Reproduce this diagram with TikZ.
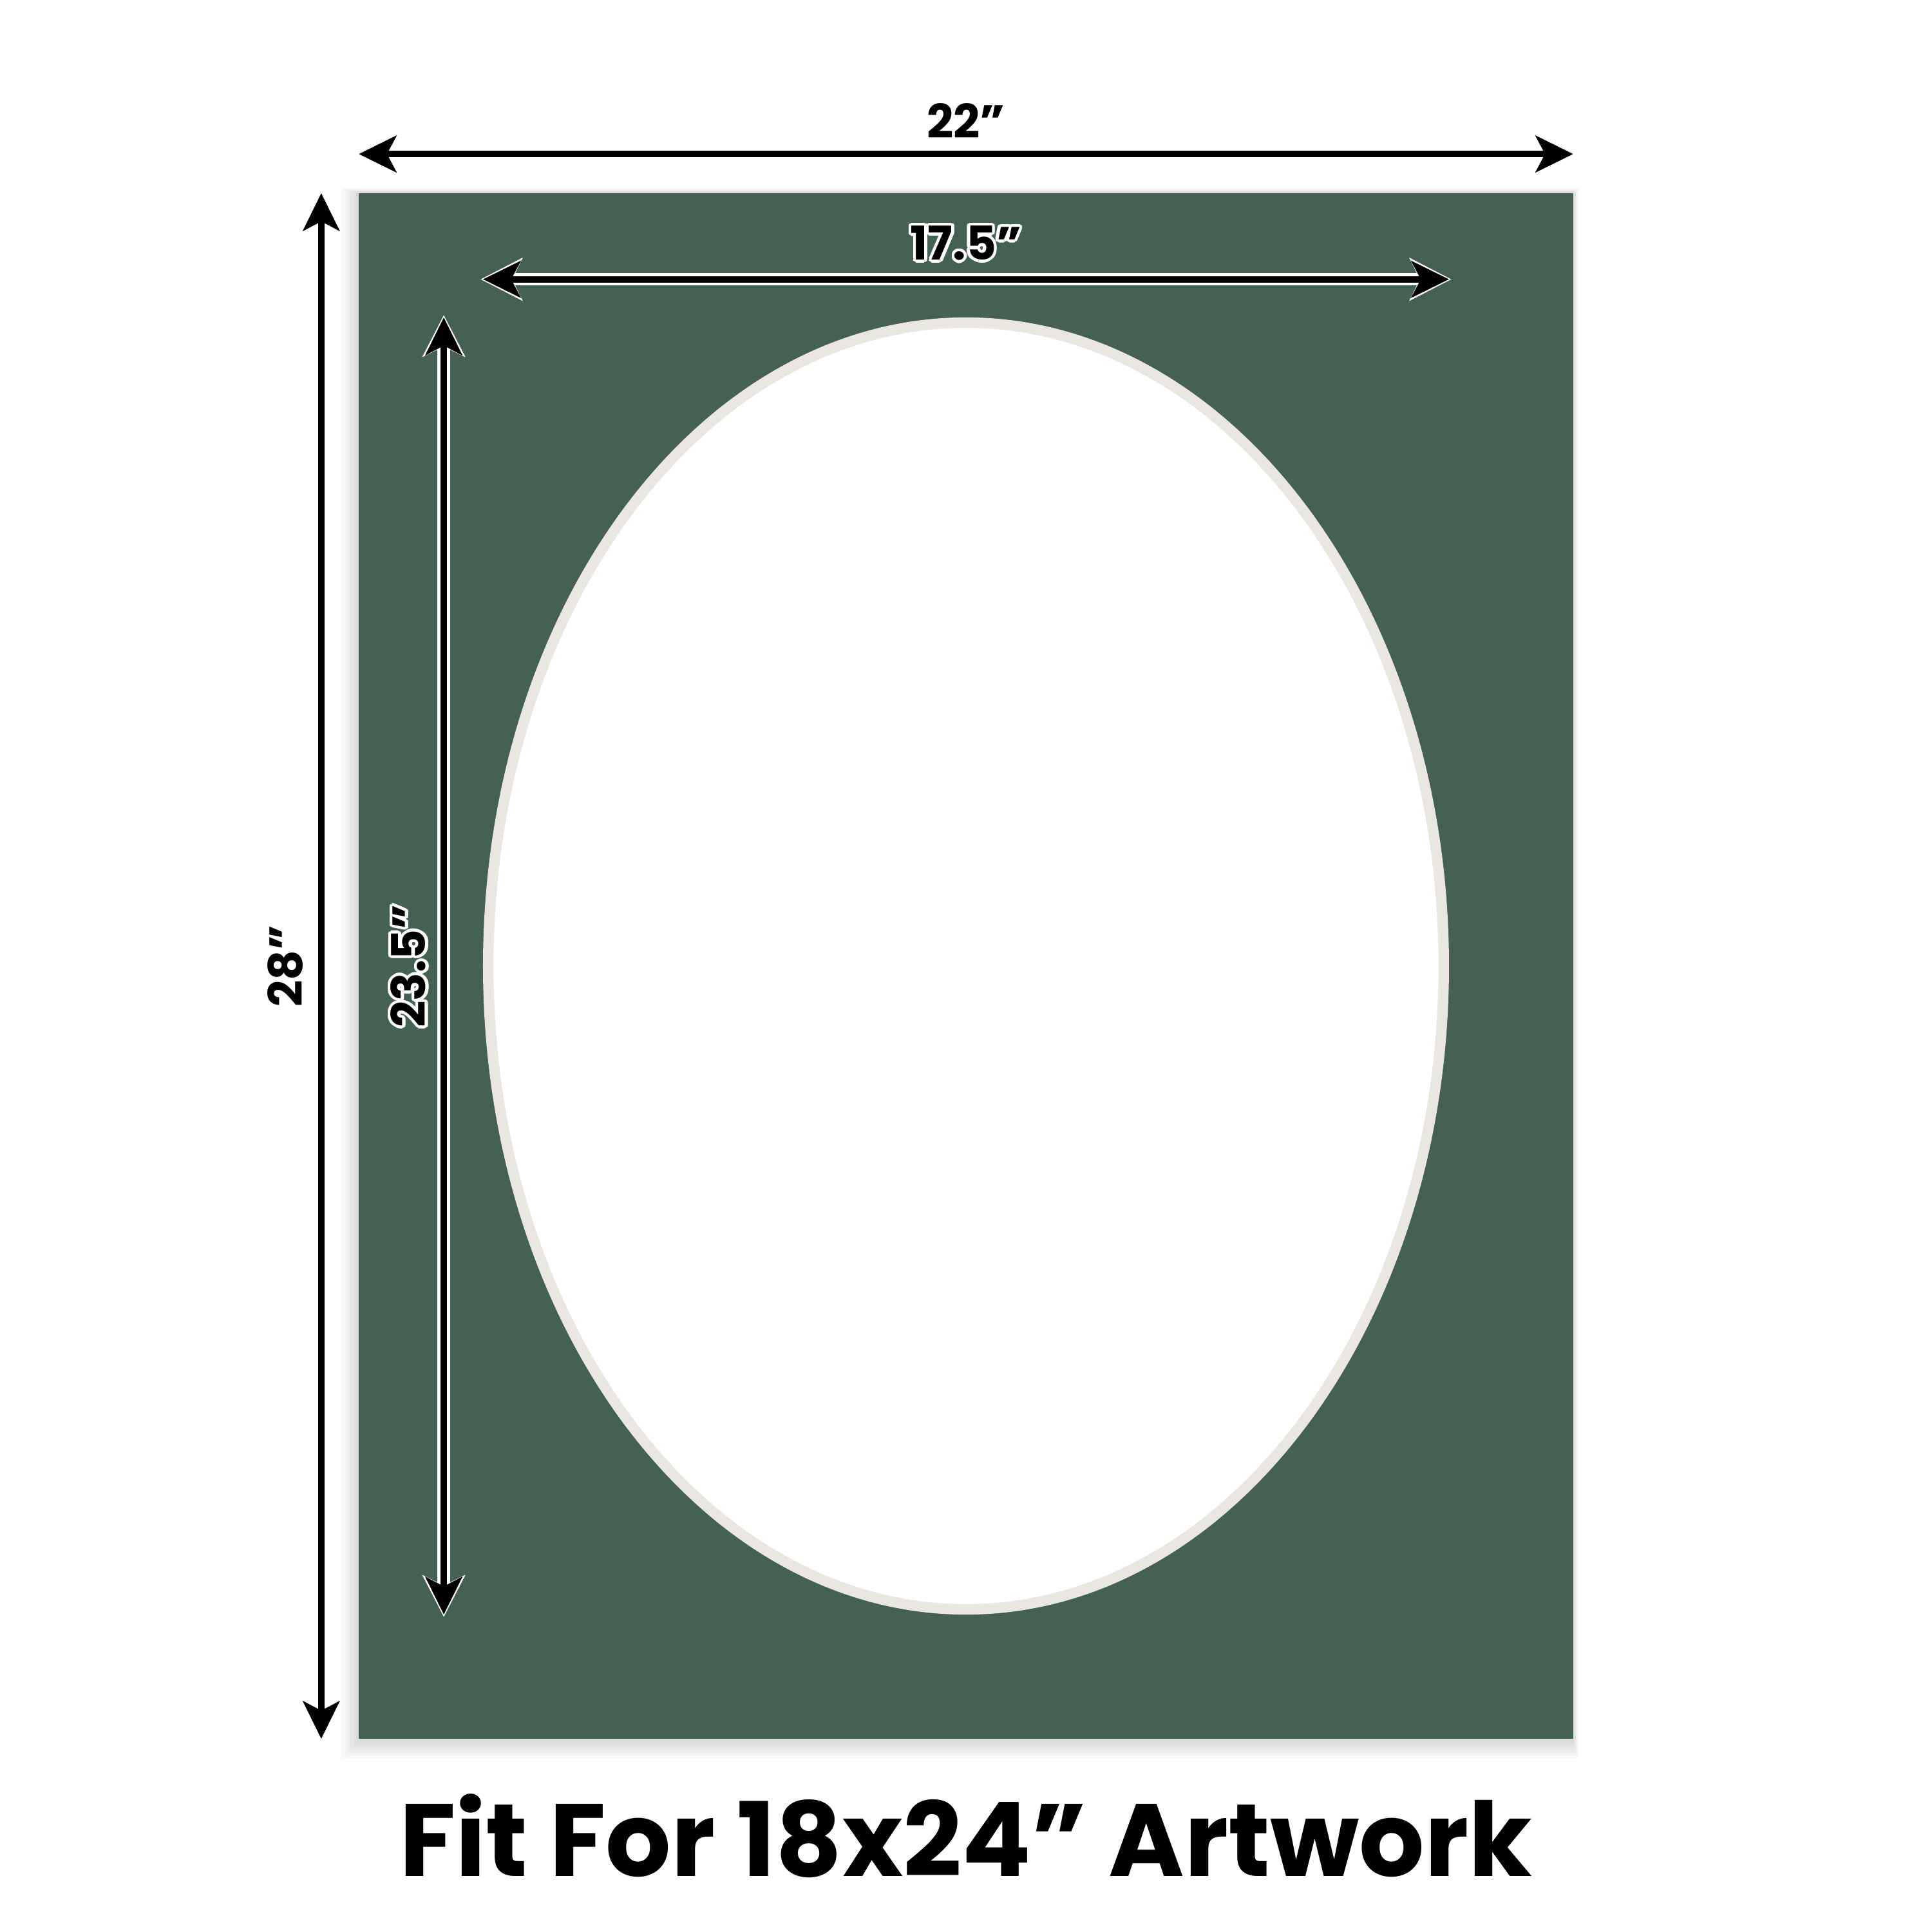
\documentclass[tikz,border=0pt]{standalone}
\usepackage{fontspec}
\setmainfont{Poppins}
\usepackage[copies]{contour}
\usetikzlibrary{arrows.meta}
\definecolor{matgreen}{RGB}{68, 97, 81}
\definecolor{bevel}{RGB}{233, 231, 223}
\contourlength{1.5pt}
\tikzset{
  dimline/.style = {line width = 3.4pt, {Stealth[length=0.68cm, width=0.66cm, inset=0.17cm]}-{Stealth[length=0.68cm, width=0.66cm, inset=0.17cm]}},
  dimhalo/.style = {white, line width = 6.4pt, shorten <= -1.2pt, shorten >= -1.2pt, {Stealth[length=0.75cm, width=0.76cm, inset=0.18cm]}-{Stealth[length=0.75cm, width=0.76cm, inset=0.18cm]}},
  dimlabel/.style = {font = \fontsize{24}{24}\selectfont\bfseries, inner sep = 0pt, anchor = base},
  captionfont/.style = {font = \fontsize{53}{53}\selectfont\bfseries, inner sep = 0pt, anchor = base},
}

\begin{document}
\begin{tikzpicture}

\useasboundingbox (-17.5,-17.5) rectangle (17.5,17.5);

% soft shadow and mat board
\foreach \s in {0.05,0.1,...,0.35}
  \fill[black, opacity = 0.022] (-11-\s,-14-\s-0.05) rectangle (11+\s*0.3,14+\s*0.3);
\fill[matgreen] (-11,-14) rectangle (11,14);
\draw[bevel, line width = 0.19cm, fill = white] (0,0) ellipse (8.655 and 11.655);

% outer dimensions
\coordinate (outerL) at (-11,14.71);
\coordinate (outerR) at (11,14.71);
\coordinate (outerT) at (-11.68,14);
\coordinate (outerB) at (-11.68,-14);
\draw[dimline] (outerL) -- (outerR);
\draw[dimline] (outerT) -- (outerB);
\node[dimlabel] (width22) at (0,15.0) {22”};
\node[dimlabel, rotate = 90] (height28) at (-12.02,0) {28”};

% opening dimensions
\coordinate (openL) at (-8.75,12.44);
\coordinate (openR) at (8.75,12.44);
\coordinate (openT) at (-9.46,11.75);
\coordinate (openB) at (-9.46,-11.75);
\draw[dimhalo] (openL) -- (openR);
\draw[dimline] (openL) -- (openR);
\draw[dimhalo] (openT) -- (openB);
\draw[dimline] (openT) -- (openB);
\node[dimlabel] (width175) at (0,12.79) {\contour{white}{17.5”}};
\node[dimlabel, rotate = 90] (height235) at (-9.79,0) {\contour{white}{23.5”}};

% caption
\node[captionfont] (caption) at (0,-16.49) {Fit For 18x24” Artwork};

\end{tikzpicture}
\end{document}
